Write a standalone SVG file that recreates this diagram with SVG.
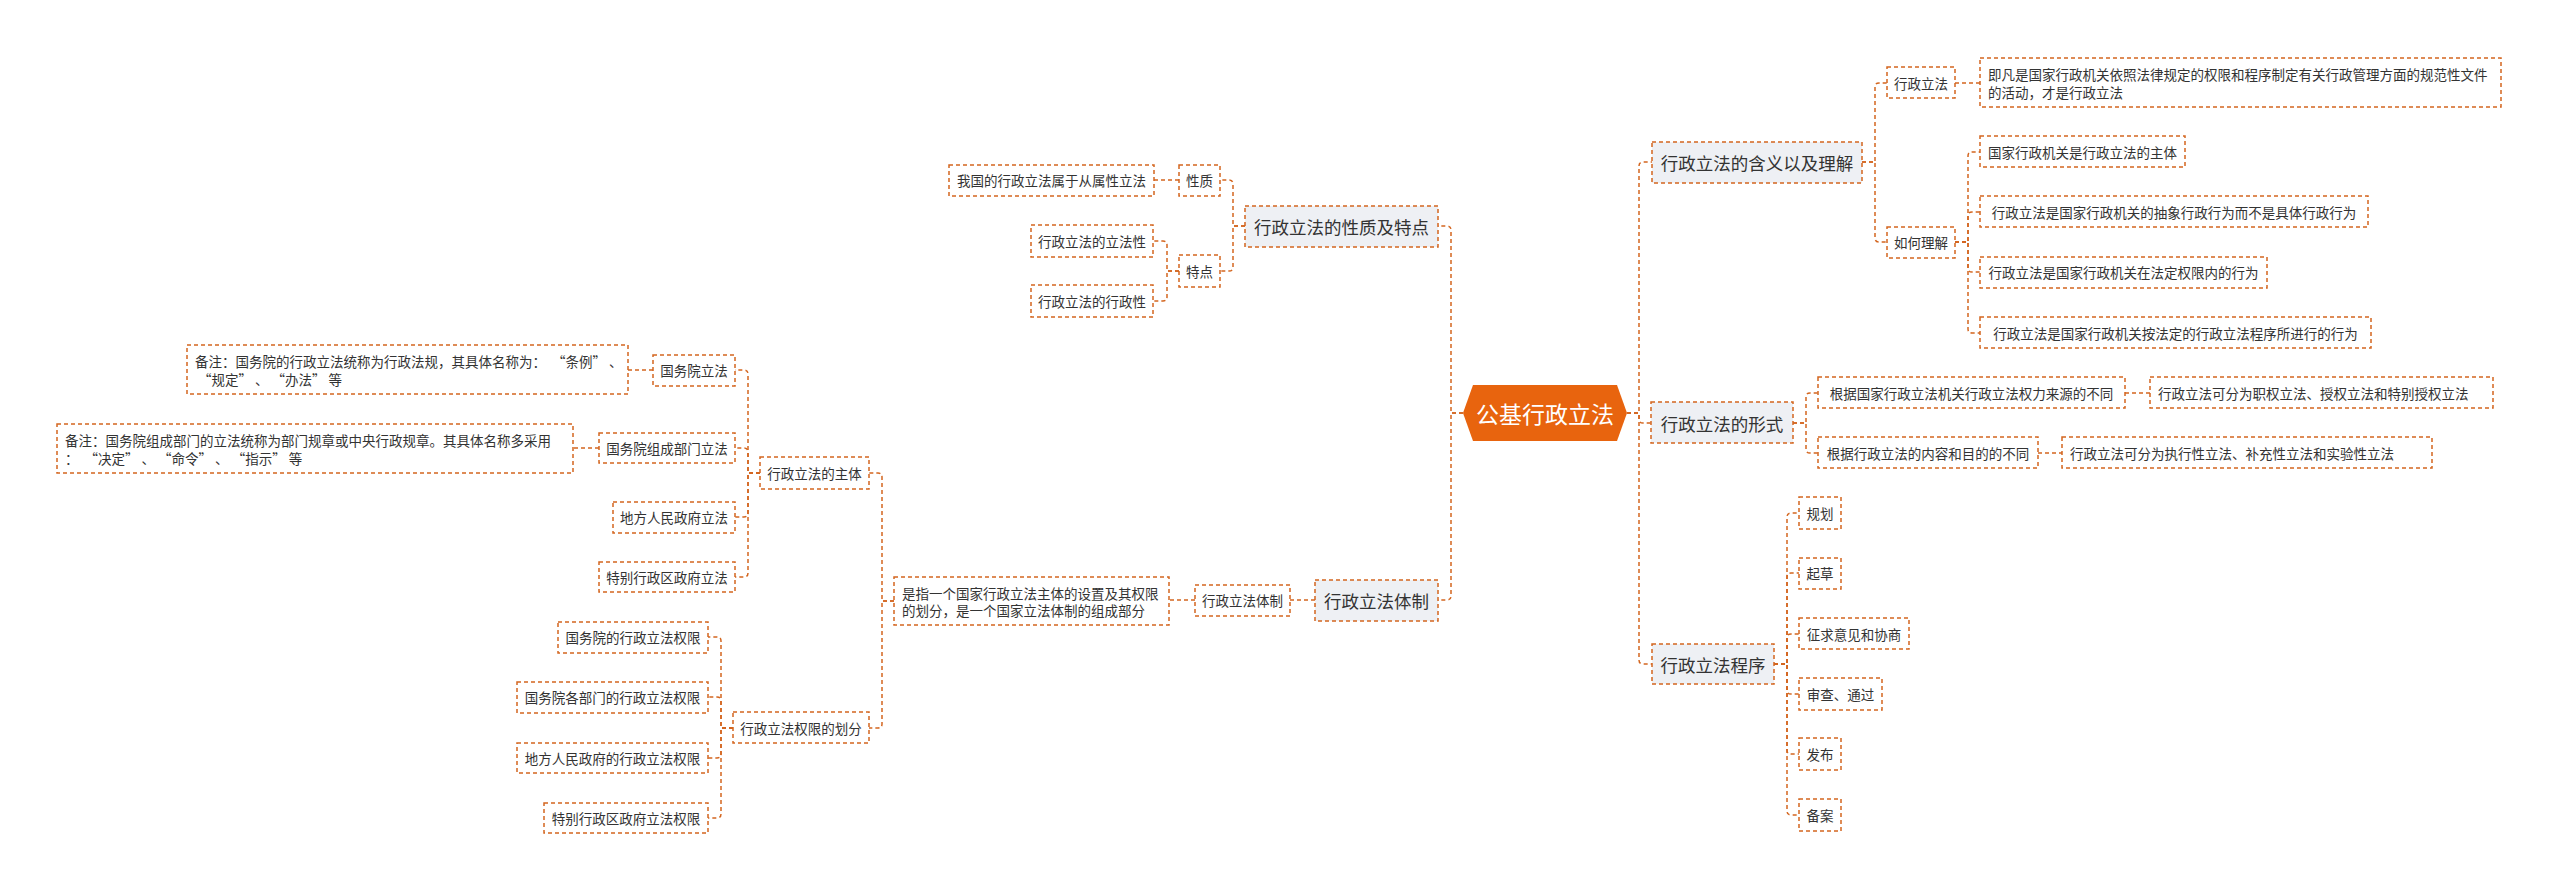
<svg xmlns="http://www.w3.org/2000/svg" width="2560" height="892" viewBox="0 0 2560 892">
<style>
text{font-family:"Noto Sans CJK SC","Noto Sans",sans-serif;fill:#333;white-space:pre;}
.b{fill:#fff;stroke:#D4661F;stroke-width:1.5;stroke-dasharray:4 3;}
.l1{fill:#EEF0F4;stroke:#D4661F;stroke-width:1.5;stroke-dasharray:4 3;}
.t{font-size:13.5px;text-anchor:middle;dominant-baseline:central;}
.tl{font-size:13.5px;dominant-baseline:central;}
.t1{font-size:17.5px;text-anchor:middle;dominant-baseline:central;}
#connectors path{fill:none;stroke:#D4661F;stroke-width:1.5;stroke-dasharray:4 3;}
</style>
<rect width="2560" height="892" fill="#fff"/>
<g id="connectors">
<path d="M1627,413 H1639 V166 Q1639,162 1643,162 H1652"/>
<path d="M1627,413 H1639 V419 Q1639,423 1643,423 H1651"/>
<path d="M1627,413 H1639 V660 Q1639,664 1643,664 H1652"/>
<path d="M1862,162 H1875 V87 Q1875,83 1879,83 H1887"/>
<path d="M1862,162 H1875 V238 Q1875,242 1879,242 H1887"/>
<path d="M1955,83 H1980"/>
<path d="M1955,242 H1968 V156 Q1968,152 1972,152 H1980"/>
<path d="M1955,242 H1968 V216 Q1968,212 1972,212 H1980"/>
<path d="M1955,242 H1968 V268 Q1968,272 1972,272 H1980"/>
<path d="M1955,242 H1968 V329 Q1968,333 1972,333 H1980"/>
<path d="M1793,423 H1806 V397 Q1806,393 1810,393 H1818"/>
<path d="M1793,423 H1806 V449 Q1806,453 1810,453 H1818"/>
<path d="M2125,393 H2150"/>
<path d="M2038,453 H2062"/>
<path d="M1774,664 H1787 V517 Q1787,513 1791,513 H1799"/>
<path d="M1774,664 H1787 V577 Q1787,573 1791,573 H1799"/>
<path d="M1774,664 H1787 V638 Q1787,634 1791,634 H1799"/>
<path d="M1774,664 H1787 V690 Q1787,694 1791,694 H1799"/>
<path d="M1774,664 H1787 V750 Q1787,754 1791,754 H1799"/>
<path d="M1774,664 H1787 V811 Q1787,815 1791,815 H1799"/>
<path d="M1463,413 H1451 V230 Q1451,226 1447,226 H1438"/>
<path d="M1463,413 H1451 V596 Q1451,600 1447,600 H1438"/>
<path d="M1245,226 H1233 V184 Q1233,180 1229,180 H1220"/>
<path d="M1245,226 H1233 V267 Q1233,271 1229,271 H1220"/>
<path d="M1179,180 H1154"/>
<path d="M1179,271 H1167 V245 Q1167,241 1163,241 H1153"/>
<path d="M1179,271 H1167 V297 Q1167,301 1163,301 H1153"/>
<path d="M1315,600 H1290"/>
<path d="M1195,600 H1169"/>
<path d="M894,601 H882 V477 Q882,473 878,473 H869"/>
<path d="M894,601 H882 V724 Q882,728 878,728 H869"/>
<path d="M760,473 H748 V374 Q748,370 744,370 H735"/>
<path d="M760,473 H748 V452 Q748,448 744,448 H735"/>
<path d="M760,473 H748 V513 Q748,517 744,517 H735"/>
<path d="M760,473 H748 V573 Q748,577 744,577 H735"/>
<path d="M653,370 H628"/>
<path d="M599,448 H573"/>
<path d="M733,728 H721 V641 Q721,637 717,637 H708"/>
<path d="M733,728 H721 V701 Q721,697 717,697 H708"/>
<path d="M733,728 H721 V754 Q721,758 717,758 H708"/>
<path d="M733,728 H721 V814 Q721,818 717,818 H708"/>
</g>
<g id="root">
<polygon points="1463,413 1473,385 1617,385 1627,413 1617,441 1473,441" fill="#E8640E"/>
<text x="1545" y="413" style="font-size:23px;fill:#fff;text-anchor:middle;dominant-baseline:central;">公基行政立法</text>
</g>
<g id="n-hanyi"><rect class="l1" x="1652" y="142" width="210" height="41"/><text class="t1" x="1757" y="162">行政立法的含义以及理解</text></g>
<g id="n-xzlf"><rect class="b" x="1887" y="67" width="68" height="31"/><text class="t" x="1921" y="83">行政立法</text></g>
<g id="n-jifan"><rect class="b" x="1980" y="58" width="521" height="49"/><text class="tl" x="1988" y="74">即凡是国家行政机关依照法律规定的权限和程序制定有关行政管理方面的规范性文件</text><text class="tl" x="1988" y="92">的活动，才是行政立法</text></g>
<g id="n-ruhe"><rect class="b" x="1887" y="227" width="68" height="31"/><text class="t" x="1921" y="242">如何理解</text></g>
<g id="n-r1"><rect class="b" x="1980" y="136" width="205" height="31"/><text class="t" x="2082.5" y="152">国家行政机关是行政立法的主体</text></g>
<g id="n-r2"><rect class="b" x="1980" y="196" width="388" height="31"/><text class="t" x="2174" y="212">行政立法是国家行政机关的抽象行政行为而不是具体行政行为</text></g>
<g id="n-r3"><rect class="b" x="1980" y="257" width="287" height="31"/><text class="t" x="2123.5" y="272">行政立法是国家行政机关在法定权限内的行为</text></g>
<g id="n-r4"><rect class="b" x="1980" y="317" width="391" height="31"/><text class="t" x="2175.5" y="333">行政立法是国家行政机关按法定的行政立法程序所进行的行为</text></g>
<g id="n-xingshi"><rect class="l1" x="1651" y="402" width="142" height="41"/><text class="t1" x="1722" y="423">行政立法的形式</text></g>
<g id="n-f1"><rect class="b" x="1818" y="377" width="307" height="31"/><text class="t" x="1971.5" y="393">根据国家行政立法机关行政立法权力来源的不同</text></g>
<g id="n-f1a"><rect class="b" x="2150" y="377" width="343" height="31"/><text class="tl" x="2158" y="393">行政立法可分为职权立法、授权立法和特别授权立法</text></g>
<g id="n-f2"><rect class="b" x="1818" y="437" width="220" height="31"/><text class="t" x="1928" y="453">根据行政立法的内容和目的的不同</text></g>
<g id="n-f2a"><rect class="b" x="2062" y="437" width="370" height="31"/><text class="tl" x="2070" y="453">行政立法可分为执行性立法、补充性立法和实验性立法</text></g>
<g id="n-chengxu"><rect class="l1" x="1652" y="644" width="122" height="40"/><text class="t1" x="1713" y="664">行政立法程序</text></g>
<g id="n-p1"><rect class="b" x="1799" y="497" width="42" height="32"/><text class="t" x="1820" y="513">规划</text></g>
<g id="n-p2"><rect class="b" x="1799" y="558" width="42" height="31"/><text class="t" x="1820" y="573">起草</text></g>
<g id="n-p3"><rect class="b" x="1799" y="618" width="110" height="31"/><text class="t" x="1854" y="634">征求意见和协商</text></g>
<g id="n-p4"><rect class="b" x="1799" y="678" width="83" height="32"/><text class="t" x="1840.5" y="694">审查、通过</text></g>
<g id="n-p5"><rect class="b" x="1799" y="738" width="42" height="32"/><text class="t" x="1820" y="754">发布</text></g>
<g id="n-p6"><rect class="b" x="1799" y="799" width="42" height="32"/><text class="t" x="1820" y="815">备案</text></g>
<g id="n-xingzhi"><rect class="l1" x="1245" y="206" width="193" height="41"/><text class="t1" x="1341.5" y="226">行政立法的性质及特点</text></g>
<g id="n-xz"><rect class="b" x="1179" y="165" width="41" height="31"/><text class="t" x="1199.5" y="180">性质</text></g>
<g id="n-xz1"><rect class="b" x="949" y="165" width="205" height="31"/><text class="t" x="1051.5" y="180">我国的行政立法属于从属性立法</text></g>
<g id="n-td"><rect class="b" x="1179" y="255" width="41" height="32"/><text class="t" x="1199.5" y="271">特点</text></g>
<g id="n-td1"><rect class="b" x="1031" y="225" width="122" height="32"/><text class="t" x="1092" y="241">行政立法的立法性</text></g>
<g id="n-td2"><rect class="b" x="1031" y="285" width="122" height="32"/><text class="t" x="1092" y="301">行政立法的行政性</text></g>
<g id="n-tizhi"><rect class="l1" x="1315" y="580" width="123" height="41"/><text class="t1" x="1376.5" y="600">行政立法体制</text></g>
<g id="n-tizhi2"><rect class="b" x="1195" y="585" width="95" height="31"/><text class="t" x="1242.5" y="600">行政立法体制</text></g>
<g id="n-shizhi"><rect class="b" x="894" y="577" width="275" height="48"/><text class="tl" x="902" y="593">是指一个国家行政立法主体的设置及其权限</text><text class="tl" x="902" y="610">的划分，是一个国家立法体制的组成部分</text></g>
<g id="n-zhuti"><rect class="b" x="760" y="457" width="109" height="32"/><text class="t" x="814.5" y="473">行政立法的主体</text></g>
<g id="n-s1"><rect class="b" x="653" y="355" width="82" height="31"/><text class="t" x="694" y="370">国务院立法</text></g>
<g id="n-s1n"><rect class="b" x="187" y="345" width="441" height="49"/><text class="tl" x="195" y="361">备注：国务院的行政立法统称为行政法规，其具体名称为：  “条例” 、</text><text class="tl" x="195" y="379"> “规定” 、 “办法” 等</text></g>
<g id="n-s2"><rect class="b" x="599" y="433" width="136" height="30"/><text class="t" x="667" y="448">国务院组成部门立法</text></g>
<g id="n-s2n"><rect class="b" x="57" y="424" width="516" height="49"/><text class="tl" x="65" y="440">备注：国务院组成部门的立法统称为部门规章或中央行政规章。其具体名称多采用</text><text class="tl" x="65" y="458">：  “决定” 、 “命令” 、 “指示” 等</text></g>
<g id="n-s3"><rect class="b" x="613" y="502" width="122" height="31"/><text class="t" x="674" y="517">地方人民政府立法</text></g>
<g id="n-s4"><rect class="b" x="599" y="562" width="136" height="30"/><text class="t" x="667" y="577">特别行政区政府立法</text></g>
<g id="n-huafen"><rect class="b" x="733" y="712" width="136" height="31"/><text class="t" x="801" y="728">行政立法权限的划分</text></g>
<g id="n-h1"><rect class="b" x="558" y="622" width="150" height="31"/><text class="t" x="633" y="637">国务院的行政立法权限</text></g>
<g id="n-h2"><rect class="b" x="517" y="682" width="191" height="31"/><text class="t" x="612.5" y="697">国务院各部门的行政立法权限</text></g>
<g id="n-h3"><rect class="b" x="517" y="743" width="191" height="30"/><text class="t" x="612.5" y="758">地方人民政府的行政立法权限</text></g>
<g id="n-h4"><rect class="b" x="544" y="803" width="164" height="30"/><text class="t" x="626" y="818">特别行政区政府立法权限</text></g>
</svg>
